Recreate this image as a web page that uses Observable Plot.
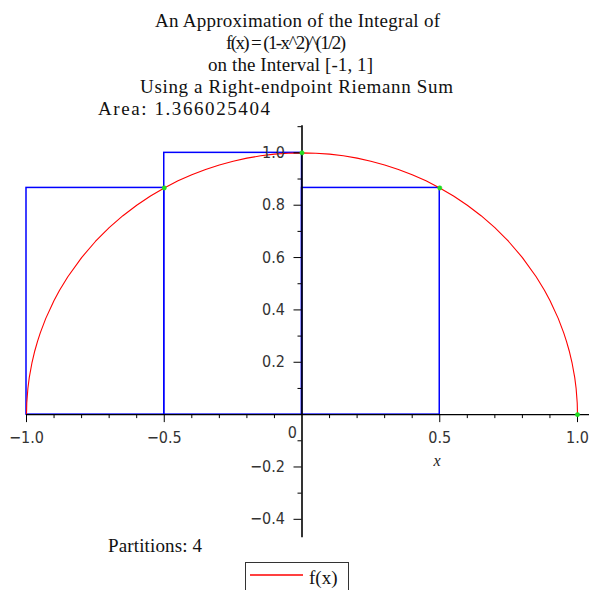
<!DOCTYPE html>
<html>
<head>
<meta charset="utf-8">
<script src="https://cdn.jsdelivr.net/npm/d3@7"></script>
<script src="https://cdn.jsdelivr.net/npm/@observablehq/plot@0.6"></script>
<style>
  html, body { margin: 0; padding: 0; background: #fff; }
  #chart { position: relative; width: 589px; height: 590px; overflow: hidden; }
</style>
</head>
<body>
<div id="chart"></div>
<script>
// ---- Data ----
const titleLines = [
  "An Approximation of the Integral of",
  "f(x) = (1-x^2)^(1/2)",
  "on the Interval [-1, 1]",
  "Using a Right-endpoint Riemann Sum"
];
const areaText = "Area: 1.366025404";
const partitionsText = "Partitions: 4";
const legendLabel = "f(x)";
const axisLabelX = "x";

// curve f(x) sampled points
const curveX = [-1, -0.999, -0.995, -0.99, -0.98, -0.97, -0.96, -0.95, -0.93, -0.9, -0.88, -0.85, -0.8, -0.75, -0.7, -0.65, -0.6, -0.55, -0.5, -0.45, -0.4, -0.35, -0.3, -0.25, -0.2, -0.15, -0.1, -0.05, 0,
                0.05, 0.1, 0.15, 0.2, 0.25, 0.3, 0.35, 0.4, 0.45, 0.5, 0.55, 0.6, 0.65, 0.7, 0.75, 0.8, 0.85, 0.88, 0.9, 0.93, 0.95, 0.96, 0.97, 0.98, 0.99, 0.995, 0.999, 1];
const curveY = [0, 0.0447, 0.0999, 0.1411, 0.199, 0.2431, 0.28, 0.3122, 0.3676, 0.4359, 0.475, 0.5268, 0.6, 0.6614, 0.7141, 0.7599, 0.8, 0.8352, 0.866, 0.893, 0.9165, 0.9367, 0.9539, 0.9682, 0.9798, 0.9887, 0.995, 0.9987, 1,
                0.9987, 0.995, 0.9887, 0.9798, 0.9682, 0.9539, 0.9367, 0.9165, 0.893, 0.866, 0.8352, 0.8, 0.7599, 0.7141, 0.6614, 0.6, 0.5268, 0.475, 0.4359, 0.3676, 0.3122, 0.28, 0.2431, 0.199, 0.1411, 0.0999, 0.0447, 0];

// Riemann rectangles (right endpoints)
const rectLeft   = [-1, -0.5, 0, 0.5];
const rectRight  = [-0.5, 0, 0.5, 1];
const rectHeight = [0.866, 1, 0.866, 0];

// ticks
const xMajorTicks  = [-1, -0.5, 0.5, 1];
const xMajorLabels = ["−1.0", "−0.5", "0.5", "1.0"];
const xMinorTicks  = [-0.9, -0.8, -0.7, -0.6, -0.4, -0.3, -0.2, -0.1, 0.1, 0.2, 0.3, 0.4, 0.6, 0.7, 0.8, 0.9];
const yMajorTicks  = [-0.4, -0.2, 0.2, 0.4, 0.6, 0.8, 1.0];
const yMajorLabels = ["−0.4", "−0.2", "0.2", "0.4", "0.6", "0.8", "1.0"];
const yMinorTicks  = [-0.3, -0.1, 0.1, 0.3, 0.5, 0.7, 0.9, 1.1];
const zeroLabel = "0";

// ---- Build tables ----
const curve = curveX.map((x, i) => ({x, y: curveY[i]}));
const rects = rectLeft.map((x1, i) => ({x1, x2: rectRight[i], h: rectHeight[i]}));
const endpoints = rectRight.map((x, i) => ({x, y: rectHeight[i]}));
const xMaj = xMajorTicks.map((v, i) => ({v, label: xMajorLabels[i]}));
const yMaj = yMajorTicks.map((v, i) => ({v, label: yMajorLabels[i]}));

const tickFont = "'Liberation Sans Narrow', 'DejaVu Sans Condensed', 'Liberation Sans', sans-serif";
const serif = "'Liberation Serif', 'DejaVu Serif', serif";

const W = 589, H = 590;
const pxX = 275.5, pxY = 262; // pixels per unit (used only for tick lengths)

const plot = Plot.plot({
  width: W,
  height: H,
  marginLeft: 26,
  marginRight: 12,
  marginTop: 100,
  marginBottom: 45,
  x: {domain: [-1, 1], axis: null},
  y: {domain: [-0.5, 1.2], axis: null},
  style: {background: "#fff", overflow: "visible"},
  marks: [
    // rectangles
    Plot.rect(rects, {x1: "x1", x2: "x2", y1: 0, y2: "h", fill: "none", stroke: "#0000ff", strokeWidth: 1.5}),
    // curve
    Plot.line(curve, {x: "x", y: "y", stroke: "#ff0000", strokeWidth: 1.1, curve: "linear"}),
    // axes
    Plot.ruleY([0], {x1: -1, x2: 1.06, stroke: "#000", strokeWidth: 1.3}),
    Plot.ruleX([0], {y1: -0.47, y2: 1.104, stroke: "#000", strokeWidth: 1.6}),
    // x ticks
    Plot.ruleX(xMinorTicks, {y1: 0, y2: -4 / pxY, stroke: "#000", strokeWidth: 1}),
    Plot.ruleX(xMaj, {x: "v", y1: 0, y2: -8 / pxY, stroke: "#000", strokeWidth: 1}),
    // y ticks
    Plot.ruleY(yMinorTicks, {x1: -4 / pxX, x2: 0, stroke: "#000", strokeWidth: 1}),
    Plot.ruleY(yMaj, {y: "v", x1: -8 / pxX, x2: 0, stroke: "#000", strokeWidth: 1}),
    // tick labels
    Plot.text(xMaj, {x: "v", y: 0, text: "label", dy: 23, fontSize: 16, fontFamily: tickFont, fill: "#333", lineAnchor: "middle"}),
    Plot.text(yMaj, {x: 0, y: "v", text: "label", dx: -17, textAnchor: "end", fontSize: 16, fontFamily: tickFont, fill: "#333", lineAnchor: "middle"}),
    Plot.text([zeroLabel], {x: 0, y: 0, text: d => d, dx: -5, dy: 18, textAnchor: "end", fontSize: 16, fontFamily: tickFont, fill: "#333", lineAnchor: "middle"}),
    Plot.text([axisLabelX], {x: 0.49, y: 0, text: d => d, dy: 46, fontSize: 16, fontFamily: serif, fontStyle: "italic", fill: "#222", lineAnchor: "middle"}),
    // endpoints
    Plot.dot(endpoints, {x: "x", y: "y", r: 2.2, fill: "#22dd22", stroke: "#22dd22", strokeWidth: 0.5})
  ]
});

document.getElementById("chart").appendChild(plot);

// ---- Title, area, partitions, legend as SVG text ----
const svg = d3.select(plot);
const titleSpecs = [
  {x: 155, y: 27, w: 285},
  {x: 226, y: 49, w: 120},
  {x: 208, y: 71, w: 165},
  {x: 140, y: 93, w: 313}
];
const addText = (t, x, y, w) => {
  const el = svg.append("text")
    .attr("x", x).attr("y", y)
    .attr("text-anchor", "start")
    .attr("font-family", serif).attr("font-size", 19).attr("fill", "#111")
    .text(t);
  if (w) el.attr("textLength", w).attr("lengthAdjust", "spacing");
  return el;
};
titleLines.forEach((t, i) => addText(t, titleSpecs[i].x, titleSpecs[i].y, titleSpecs[i].w));
addText(areaText, 98, 115, 172);
addText(partitionsText, 108, 552, 94);

// legend
const lg = svg.append("g");
lg.append("rect").attr("x", 245.5).attr("y", 562.5).attr("width", 103).attr("height", 40)
  .attr("fill", "#fff").attr("stroke", "#333").attr("stroke-width", 1);
lg.append("line").attr("x1", 250).attr("x2", 303).attr("y1", 575).attr("y2", 575)
  .style("stroke", "#ff0000").style("stroke-width", "1.6px");
lg.append("text").attr("x", 309).attr("y", 584).attr("text-anchor", "start")
  .attr("font-family", serif).attr("font-size", 19).attr("fill", "#111")
  .text(legendLabel);
</script>
</body>
</html>
